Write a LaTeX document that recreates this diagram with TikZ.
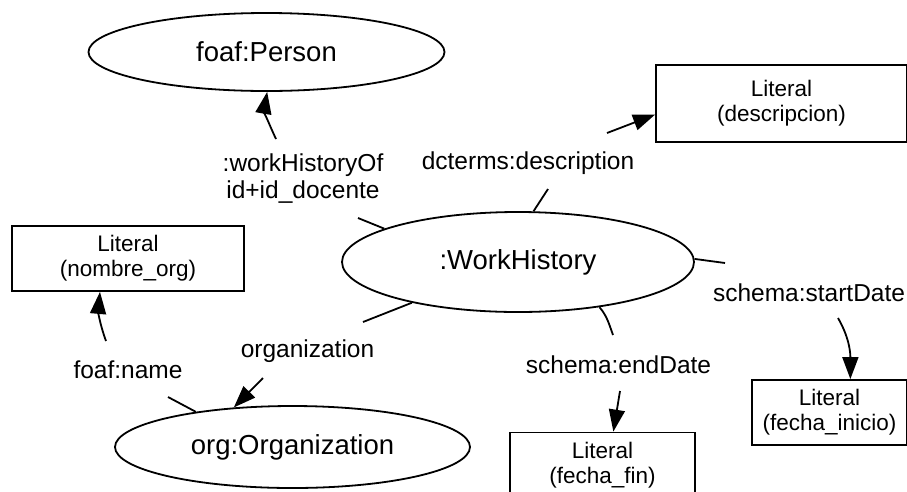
\documentclass[tikz,border=0pt]{standalone}
\usepackage{fontspec}
\setmainfont{Liberation Sans}
\usetikzlibrary{arrows.meta,shapes.geometric}
\begin{document}
\begin{tikzpicture}[x=1pt,y=-1pt,
  cls/.style={ellipse, draw, line width=1.8pt, inner sep=0pt, font=\fontsize{27.5}{30}\selectfont},
  lit/.style={rectangle, draw, line width=1.8pt, inner sep=0pt, align=center, font=\fontsize{22.5}{25}\selectfont},
  lbl/.style={inner sep=0pt, align=center, font=\fontsize{24.5}{27}\selectfont},
  edge/.style={line width=1.8pt},
  arr/.style={edge, -{Triangle[length=22pt,width=16pt]}}]
\useasboundingbox (0,0) rectangle (907,491);
\node[cls, minimum width=356pt, minimum height=78pt] (person) at (266.5,52) {foaf:Person};
\node[cls, minimum width=352pt, minimum height=100pt] (wh) at (518,262) {:WorkHistory};
\node[cls, minimum width=355pt, minimum height=82pt] (org) at (292.5,447) {org:Organization};
\node[lit, minimum width=251pt, minimum height=77pt] (desc) at (781.5,103.5) {Literal\\(descripcion)};
\node[lit, minimum width=232pt, minimum height=65pt] (nom) at (128,258.5) {Literal\\(nombre\_org)};
\node[lit, minimum width=155pt, minimum height=65pt] (ini) at (829.5,412.5) {Literal\\(fecha\_inicio)};
\node[lit, minimum width=185pt, minimum height=65pt] (fin) at (602.5,465) {Literal\\(fecha\_fin)};
\node[lbl] (lwho) at (303,179) {:workHistoryOf\\id+id\_docente};
\node[lbl] (ldesc) at (528,163) {dcterms:description};
\node[lbl] (lstart) at (809,293) {schema:startDate};
\node[lbl] (lend) at (618.5,365) {schema:endDate};
\node[lbl] (lorg) at (307.5,351) {organization};
\node[lbl] (lname) at (128,370) {foaf:name};
\coordinate (a1) at (358,218);
\coordinate (b1) at (276,139);
\coordinate (a2) at (548,189);
\coordinate (b2) at (607,133);
\coordinate (a3) at (725,263);
\coordinate (b3) at (838,318);
\coordinate (a4) at (613,335);
\coordinate (b4) at (620,391);
\coordinate (a5) at (363,322);
\coordinate (b5) at (263,378);
\coordinate (a6) at (168,397);
\coordinate (b6) at (106,341);
\draw[edge] (wh.166) -- (a1);
\draw[arr] (b1) to[out=115,in=-100] (person.271);
\draw[edge] (wh.73) -- (a2);
\draw[arr] (b2) -- (desc.185);
\draw[edge] (wh.1) -- (a3);
\draw[arr] (b3) to[out=-60,in=90] (ini.58);
\draw[edge] (wh.-29) to[out=-50,in=110] (a4);
\draw[arr] (b4) -- (fin.72);
\draw[edge] (wh.201) -- (a5);
\draw[arr] (b5) -- (org.146);
\draw[edge] (org.160) -- (a6);
\draw[arr] (b6) to[out=110,in=-95] (nom.230);
\end{tikzpicture}
\end{document}
